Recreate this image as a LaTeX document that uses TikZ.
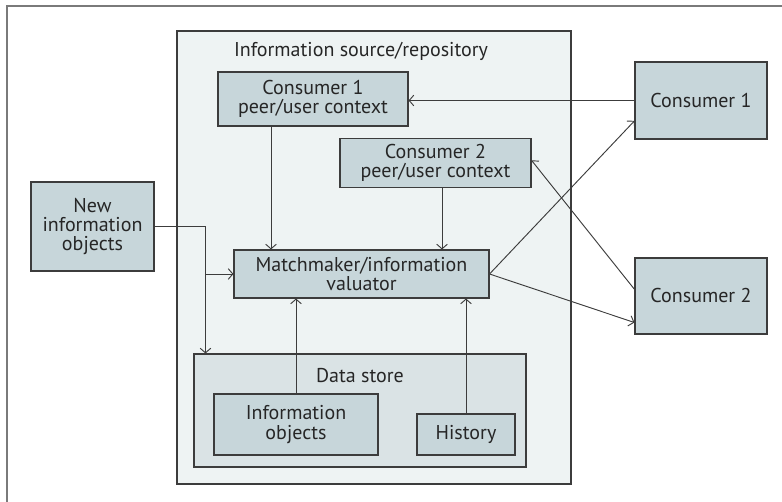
\documentclass[tikz,border=0pt]{standalone}
\usepackage{fontspec}
\setmainfont{PT Sans}
\usetikzlibrary{arrows.meta,positioning}
\definecolor{boxfill}{HTML}{C7D6DA}
\definecolor{storefill}{HTML}{DAE3E5}
\definecolor{repofill}{HTML}{EEF3F3}
\definecolor{linegray}{HTML}{3C3C3C}
\definecolor{framegray}{HTML}{7A7A7A}

\begin{document}
\begin{tikzpicture}[x=0.75pt,y=-0.75pt,
 every node/.style={align=center,font=\fontsize{15}{14.5}\selectfont,text=black!85},
 box/.style={draw=linegray,fill=boxfill,inner sep=0pt,line width=0.8pt},
 arr/.style={draw=linegray,line width=0.7pt,-{Straight Barb[length=3.5pt,width=8pt]}}]
\useasboundingbox (0,0) rectangle (782,502);
\draw[framegray,line width=1.5pt] (7,502) -- (7,6) -- (782,6);
% repository and data store
\node[box,fill=repofill,minimum width=295.5pt,minimum height=339.75pt] (repo) at (374,257.5) {};
\node (repotitle) at (361,51) {Information source/repository};
\node[box,fill=storefill,minimum width=249pt,minimum height=84.75pt] (store) at (360,410.5) {};
\node (storetitle) at (360,376) {Data store};
\node[box,minimum width=123pt,minimum height=45.75pt] (infoobj) at (296,424.5) {Information\\objects};
\node[box,minimum width=73.5pt,minimum height=30.75pt] (history) at (466,434.5) {History};
% contexts and matchmaker
\node[box,minimum width=142.5pt,minimum height=40.5pt] (ctx1) at (313,99) {Consumer 1\\peer/user context};
\node[box,minimum width=143.25pt,minimum height=36.75pt] (ctx2) at (435.5,163) {Consumer 2\\peer/user context};
\node[box,minimum width=191.25pt,minimum height=36pt] (match) at (361.5,274) {Matchmaker/information\\valuator};
% outside
\node[box,minimum width=92.25pt,minimum height=66.75pt] (newinfo) at (92.5,226.5) {New\\information\\objects};
\node[box,minimum width=99pt,minimum height=57.75pt] (cons1) at (701,100.5) {Consumer 1};
\node[box,minimum width=99pt,minimum height=57pt] (cons2) at (701,296) {Consumer 2};
% connectors
\draw[arr] (cons1.west) -- (ctx1.east |- cons1.west);
\draw[arr] ([xshift=-31.5pt]ctx1.south) coordinate (c1) -- (c1 |- match.north);
\draw[arr] ([xshift=4.9pt]ctx2.south) coordinate (c2) -- (c2 |- match.north);
\draw[arr] (newinfo.east) -| ([xshift=9pt]store.north west);
\draw[arr] ([xshift=9pt]store.north west |- match.west) -- (match.west);
\draw[arr] (infoobj.north) -- (infoobj.north |- match.south);
\draw[arr] (history.north) -- (history.north |- match.south);
\draw[arr] (match.east) -- ([yshift=14pt]cons1.south west);
\draw[arr] (match.east) -- ([yshift=9pt]cons2.south west);
\draw[arr] ([yshift=5pt]cons2.west) -- ([yshift=2pt]ctx2.east);
\end{tikzpicture}
\end{document}
